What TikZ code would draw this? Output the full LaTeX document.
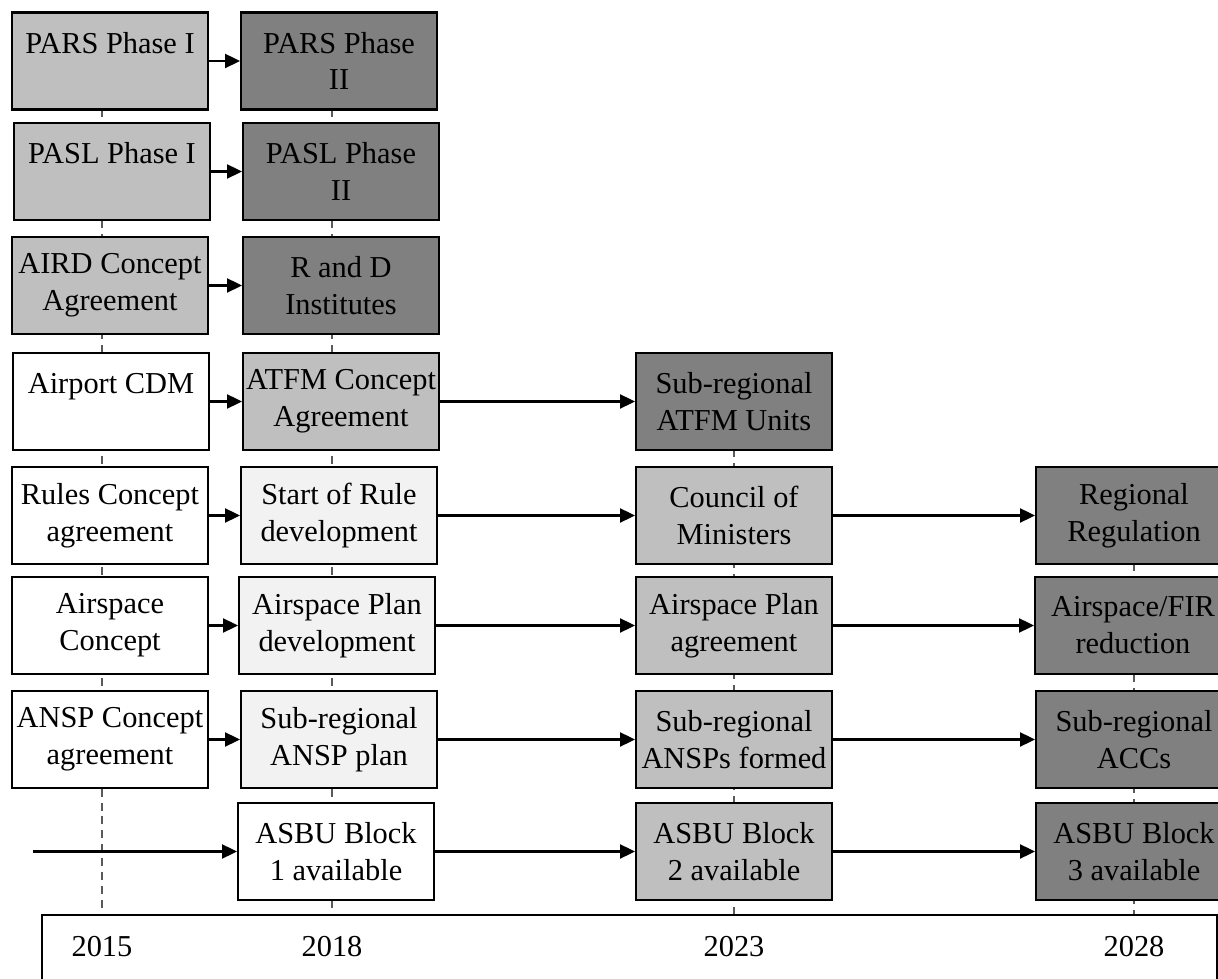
\documentclass[tikz,border=0pt]{standalone}
\usepackage{fontspec}
\setmainfont{Liberation Serif}
\usetikzlibrary{arrows.meta,backgrounds}

\definecolor{paleGrey}{HTML}{F2F2F2}
\definecolor{midGrey}{HTML}{BFBFBF}
\definecolor{darkGrey}{HTML}{808080}
\definecolor{guideGrey}{HTML}{5A5A5A}

\tikzset{
  box/.style={draw, line width=1.2pt, minimum width=3.92cm, minimum height=1.94cm,
    align=center, inner xsep=0pt, inner ysep=2pt, font=\fontsize{17.3}{21}\selectfont},
  whitebox/.style={box, fill=white},
  palebox/.style={box, fill=paleGrey},
  greybox/.style={box, fill=midGrey},
  darkbox/.style={box, fill=darkGrey},
  flow/.style={line width=1.2pt, -{Triangle[length=8.5pt,width=8pt]}},
  guide/.style={guideGrey, line width=1.2pt, dash pattern=on 4.5pt off 3.4pt},
  year/.style={font=\fontsize{17.3}{21}\selectfont}
}

\begin{document}
\begin{tikzpicture}[x=0.02cm,y=-0.02cm]

\useasboundingbox (0,0) rectangle (1218,979);

% 2015
\node[greybox]  (parsI)           at (110,61)    {PARS Phase I\\~};
\node[greybox]  (paslI)           at (112,171.5) {PASL Phase I\\~};
\node[greybox]  (airdConcept)     at (110,285.5) {AIRD Concept\\Agreement};
\node[whitebox] (airportCDM)      at (111,401.5) {Airport CDM\\~};
\node[whitebox] (rulesConcept)    at (110,515.5) {Rules Concept\\agreement};
\node[whitebox] (airspaceConcept) at (110,625.5) {Airspace\\Concept};
\node[whitebox] (anspConcept)     at (110,739.5) {ANSP Concept\\agreement};

% 2018
\node[darkbox]  (parsII)          at (339,61)    {PARS Phase\\II};
\node[darkbox]  (paslII)          at (341,171.5) {PASL Phase\\II};
\node[darkbox]  (rdInstitutes)    at (341,285.5) {R and D\\Institutes};
\node[greybox]  (atfmConcept)     at (341,401.5) {ATFM Concept\\Agreement};
\node[palebox]  (ruleStart)       at (339,515.5) {Start of Rule\\development};
\node[palebox]  (airspacePlanDev) at (337,625.5) {Airspace Plan\\development};
\node[palebox]  (anspPlan)        at (339,739.5) {Sub-regional\\ANSP plan};
\node[whitebox] (asbuOne)         at (336,851.5) {ASBU Block\\1 available};

% 2023
\node[darkbox]  (atfmUnits)       at (734,401.5) {Sub-regional\\ATFM Units};
\node[greybox]  (council)         at (734,515.5) {Council of\\Ministers};
\node[greybox]  (airspacePlanAgr) at (734,625.5) {Airspace Plan\\agreement};
\node[greybox]  (anspsFormed)     at (734,739.5) {Sub-regional\\ANSPs formed};
\node[greybox]  (asbuTwo)         at (734,851.5) {ASBU Block\\2 available};

% 2028
\node[darkbox]  (regulation)      at (1134,515.5) {Regional\\Regulation};
\node[darkbox]  (firReduction)    at (1133,625.5) {Airspace/FIR\\reduction};
\node[darkbox]  (accs)            at (1134,739.5) {Sub-regional\\ACCs};
\node[darkbox]  (asbuThree)       at (1134,851.5) {ASBU Block\\3 available};

% time axis
\draw[line width=1.2pt] (42,915) rectangle (1217,1000);
\coordinate (axisTop) at (0,915);
\node[year] (y2015) at (102,947) {2015};
\node[year] (y2018) at (332,947) {2018};
\node[year] (y2023) at (734,947) {2023};
\node[year] (y2028) at (1134,947) {2028};

\begin{scope}[on background layer]
\draw[guide] (y2015 |- parsI.north) -- (y2015 |- axisTop);
\draw[guide] (y2018 |- parsII.north) -- (y2018 |- axisTop);
\draw[guide] (y2023 |- atfmUnits.north) -- (y2023 |- axisTop);
\draw[guide] (y2028 |- regulation.north) -- (y2028 |- axisTop);
\end{scope}

% links
\draw[flow] (parsI) -- (parsII);
\draw[flow] (paslI) -- (paslII);
\draw[flow] (airdConcept) -- (rdInstitutes);
\draw[flow] (airportCDM) -- (atfmConcept);
\draw[flow] (atfmConcept) -- (atfmUnits);
\draw[flow] (rulesConcept) -- (ruleStart);
\draw[flow] (ruleStart) -- (council);
\draw[flow] (council) -- (regulation);
\draw[flow] (airspaceConcept) -- (airspacePlanDev);
\draw[flow] (airspacePlanDev) -- (airspacePlanAgr);
\draw[flow] (airspacePlanAgr) -- (firReduction);
\draw[flow] (anspConcept) -- (anspPlan);
\draw[flow] (anspPlan) -- (anspsFormed);
\draw[flow] (anspsFormed) -- (accs);
\coordinate (asbuStart) at (33,851.5);
\draw[flow] (asbuStart) -- (asbuOne);
\draw[flow] (asbuOne) -- (asbuTwo);
\draw[flow] (asbuTwo) -- (asbuThree);

\end{tikzpicture}
\end{document}
